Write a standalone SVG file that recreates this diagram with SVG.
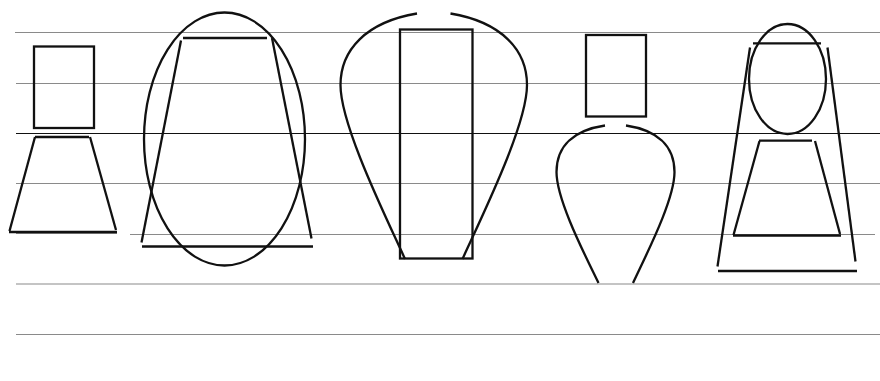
<svg xmlns="http://www.w3.org/2000/svg" width="880" height="381" viewBox="0 0 880 381">
<style>
.g{stroke:#8a8a8a;stroke-width:1.2;fill:none}
.k{stroke:#111;stroke-width:1.2;fill:none}
.s{stroke:#111;stroke-width:2.3;fill:none;stroke-linecap:butt}
</style>
<rect width="880" height="381" fill="#fff"/>
<g id="ruling">
<line class="g" x1="15" y1="32.5" x2="880" y2="32.5"/>
<line class="g" x1="16" y1="83.5" x2="880" y2="83.5"/>
<line class="k" x1="16" y1="133.5" x2="880" y2="133.5"/>
<line class="g" x1="16" y1="183.5" x2="880" y2="183.5"/>
<line class="g" x1="16" y1="233.5" x2="117" y2="233.5"/>
<line class="g" x1="130" y1="234.5" x2="875" y2="234.5"/>
<line class="g" x1="16" y1="284" x2="880" y2="284"/>
<line class="g" x1="16" y1="334.5" x2="880" y2="334.5"/>
</g>
<g id="figure1">
<rect class="s" x="34" y="46.5" width="60" height="81.5"/>
<line class="s" x1="35" y1="137" x2="89" y2="137"/>
<line class="s" x1="35" y1="137" x2="9.5" y2="231"/>
<line class="s" x1="90" y1="137" x2="116" y2="230"/>
<line class="s" x1="9" y1="232" x2="117" y2="232"/>
</g>
<g id="figure2">
<ellipse class="s" cx="224.5" cy="139" rx="80.5" ry="126.5"/>
<line class="s" x1="183" y1="38" x2="267" y2="38"/>
<line class="s" x1="181" y1="40.5" x2="141.5" y2="242.5"/>
<line class="s" x1="272" y1="38" x2="311.5" y2="238.5"/>
<line class="s" x1="142" y1="246.5" x2="313" y2="246.5"/>
</g>
<g id="figure3">
<rect class="s" x="400" y="29.5" width="72.5" height="229"/>
<path class="s" d="M417,13.5 C366,22 340.5,50 340.5,85 C340.5,125 385,215 405,259"/>
<path class="s" d="M450.5,13.5 C501.5,22 527,50 527,85 C527,125 482.5,215 462.5,259"/>
</g>
<g id="figure4">
<rect class="s" x="586" y="35" width="60" height="81.5"/>
<path class="s" d="M605,125.5 C575,130 556.5,145 556.5,172 C556.5,200 585,255 598.5,283"/>
<path class="s" d="M626,125.5 C656,130 674.5,145 674.5,172 C674.5,200 646,255 633,283"/>
</g>
<g id="figure5">
<ellipse class="s" cx="787.5" cy="79" rx="38.5" ry="55"/>
<line class="s" x1="753" y1="43.3" x2="821" y2="43.3"/>
<line class="s" x1="750" y1="47.5" x2="717.5" y2="266.5"/>
<line class="s" x1="827.5" y1="47.5" x2="855.5" y2="261.5"/>
<line class="s" x1="718" y1="271" x2="857" y2="271"/>
<line class="s" x1="759" y1="140.7" x2="812" y2="140.7"/>
<line class="s" x1="759.5" y1="141" x2="733.5" y2="235"/>
<line class="s" x1="815" y1="141" x2="840" y2="234"/>
<line class="s" x1="733" y1="235.5" x2="841" y2="235.5"/>
</g>
</svg>
